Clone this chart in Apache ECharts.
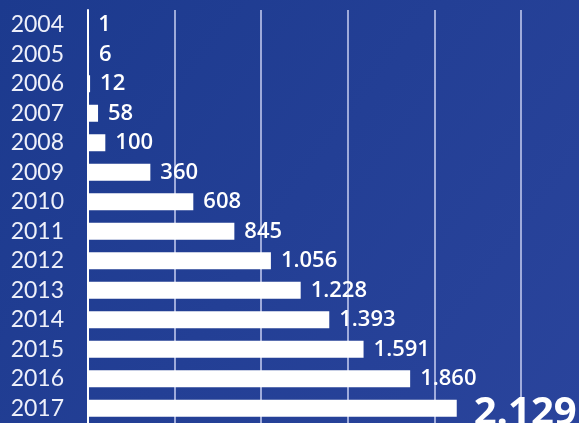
<!DOCTYPE html>
<html><head><meta charset="utf-8">
<script src="https://cdn.jsdelivr.net/npm/echarts@6/dist/echarts.min.js"></script>
<style>html,body{margin:0;padding:0;}#c{width:579px;height:423px;}</style>
</head><body><div id="c"></div>
<script>
const years = ['2004','2005','2006','2007','2008','2009','2010','2011','2012','2013','2014','2015','2016','2017'];
const values = [1,6,12,58,100,360,608,845,1056,1228,1393,1591,1860,2129];
const xTicks = [0,500,1000,1500,2000,2500];

function fmt(v){ return String(v).replace(/\B(?=(\d{3})+(?!\d))/g,'.'); }

const data = values.map((v,i)=> i===values.length-1
  ? {value:v, label:{fontSize:40, fontWeight:'bold', distance:17, offset:[0,5]}}
  : v);

const chart = echarts.init(document.getElementById('c'));
chart.setOption({
  backgroundColor: {type:'linear', x:0, y:0, x2:1, y2:1, colorStops:[
    {offset:0, color:'#1c3a8e'},{offset:1, color:'#2a449c'}]},
  grid:{left:88, right:58, top:10, bottom:-1, containLabel:false},
  xAxis:{type:'value', min:xTicks[0], max:xTicks[xTicks.length-1], interval:500,
    axisLabel:{show:false}, axisLine:{show:false}, axisTick:{show:false},
    splitLine:{show:true, lineStyle:{color:'#c9cff2', width:1.5}}},
  yAxis:{type:'category', data:years, inverse:true,
    axisLine:{show:true, lineStyle:{color:'#ffffff', width:2}},
    axisTick:{show:false},
    axisLabel:{color:'#eef0fa', fontSize:23, fontFamily:'Lato', margin:24, interval:0, hideOverlap:false, padding:[3,0,0,0]}},
  series:[{type:'bar', data:data, barWidth:17, itemStyle:{color:'#ffffff'},
    label:{show:true, position:'right', distance:10, color:'#ffffff',
      fontSize:22, fontWeight:600, fontFamily:'Open Sans',
      formatter:p=>fmt(p.value)}}],
  animation:false
});
</script></body></html>
